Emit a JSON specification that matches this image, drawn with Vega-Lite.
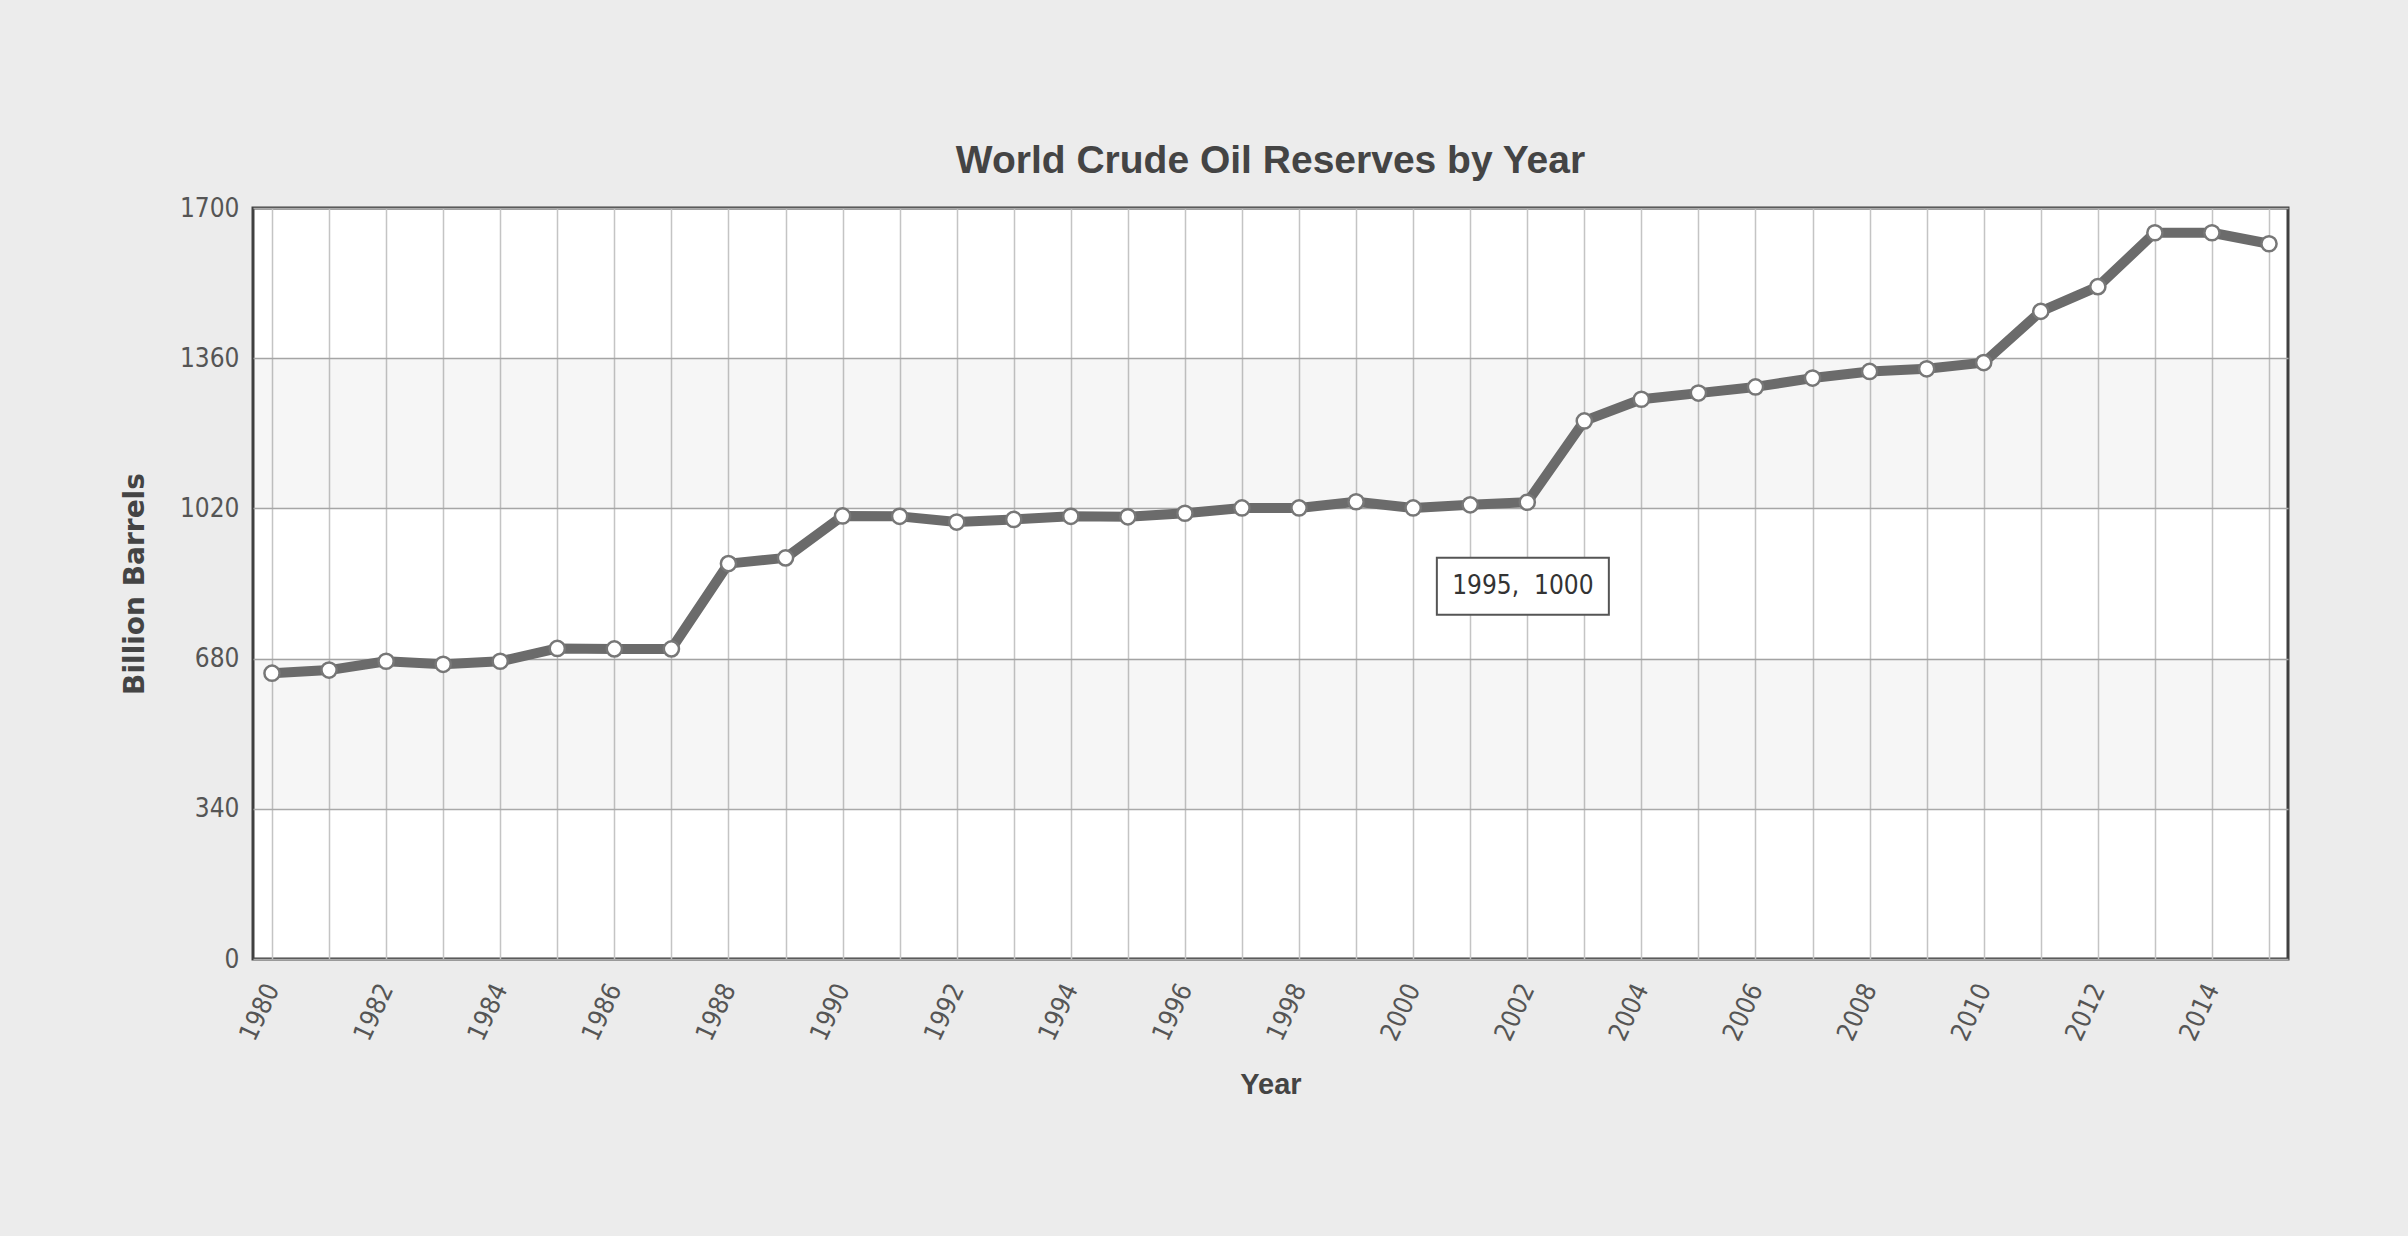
{
  "$schema": "https://vega.github.io/schema/vega-lite/v6.json",
  "width": 2035,
  "height": 751,
  "autosize": {"type": "none"},
  "padding": {"left": 253, "top": 208, "right": 120, "bottom": 277},
  "background": "#ececec",
  "title": {
    "text": "World Crude Oil Reserves by Year",
    "font": "Liberation Sans",
    "fontWeight": "bold",
    "fontSize": 39,
    "color": "#444444",
    "anchor": "middle",
    "offset": 14
  },
  "config": {
    "view": {"fill": "white", "stroke": "#404040", "strokeWidth": 3}
  },
  "datasets": {
    "reserves": [
      {"year": 1980, "value": 647},
      {"year": 1981, "value": 654},
      {"year": 1982, "value": 674},
      {"year": 1983, "value": 667},
      {"year": 1984, "value": 674},
      {"year": 1985, "value": 703},
      {"year": 1986, "value": 702},
      {"year": 1987, "value": 702},
      {"year": 1988, "value": 895},
      {"year": 1989, "value": 908},
      {"year": 1990, "value": 1003},
      {"year": 1991, "value": 1002},
      {"year": 1992, "value": 989},
      {"year": 1993, "value": 995},
      {"year": 1994, "value": 1002},
      {"year": 1995, "value": 1001},
      {"year": 1996, "value": 1009},
      {"year": 1997, "value": 1021},
      {"year": 1998, "value": 1021},
      {"year": 1999, "value": 1035},
      {"year": 2000, "value": 1021},
      {"year": 2001, "value": 1028},
      {"year": 2002, "value": 1034},
      {"year": 2003, "value": 1218},
      {"year": 2004, "value": 1267},
      {"year": 2005, "value": 1281},
      {"year": 2006, "value": 1295},
      {"year": 2007, "value": 1315},
      {"year": 2008, "value": 1330},
      {"year": 2009, "value": 1336},
      {"year": 2010, "value": 1350},
      {"year": 2011, "value": 1466},
      {"year": 2012, "value": 1522},
      {"year": 2013, "value": 1644},
      {"year": 2014, "value": 1644},
      {"year": 2015, "value": 1619}
    ],
    "bands": [
      {"lo": 340, "hi": 680},
      {"lo": 1020, "hi": 1360}
    ],
    "tip": [
      {"year": 1995, "value": 1000, "label": "1995,\u00a0 1000"}
    ]
  },
  "layer": [
    {
      "data": {"name": "bands"},
      "mark": {"type": "rect", "fill": "#000000", "fillOpacity": 0.035},
      "encoding": {
        "x": {"value": 0},
        "x2": {"value": "width"},
        "y": {
          "field": "lo",
          "type": "quantitative",
          "scale": {"domain": [0, 1700], "nice": false},
          "axis": {
            "values": [0, 340, 680, 1020, 1360, 1700],
            "format": "d",
            "labelFont": "DejaVu Sans Condensed, DejaVu Sans",
            "labelFontSize": 26,
            "labelColor": "#555555",
            "labelPadding": 14,
            "labelFlush": false,
            "ticks": false,
            "domain": false,
            "grid": true,
            "gridColor": "#a9a9a9",
            "gridWidth": 1.5,
            "title": "Billion Barrels",
            "titleFont": "DejaVu Sans",
            "titleFontSize": 28,
            "titleFontWeight": "bold",
            "titleColor": "#444444",
            "titlePadding": 30
          }
        },
        "y2": {"field": "hi"}
      }
    },
    {
      "data": {"name": "reserves"},
      "mark": {"type": "line", "color": "#6b6b6b", "strokeWidth": 10, "strokeJoin": "round"},
      "encoding": {
        "x": {
          "field": "year",
          "type": "quantitative",
          "scale": {"domain": [1979.667, 2015.333], "nice": false, "zero": false},
          "axis": {
            "values": [1980,1981,1982,1983,1984,1985,1986,1987,1988,1989,1990,1991,1992,1993,1994,1995,1996,1997,1998,1999,2000,2001,2002,2003,2004,2005,2006,2007,2008,2009,2010,2011,2012,2013,2014,2015],
            "labelExpr": "datum.value % 2 === 0 ? format(datum.value, 'd') : ''",
            "labelOverlap": false,
            "labelFlush": false,
            "labelAngle": -65,
            "labelFont": "DejaVu Sans Condensed, DejaVu Sans",
            "labelFontSize": 26,
            "labelColor": "#555555",
            "labelPadding": 26,
            "ticks": false,
            "domain": false,
            "grid": true,
            "gridColor": "#c4c4c4",
            "gridWidth": 1.5,
            "title": "Year",
            "titleFont": "Liberation Sans",
            "titleFontSize": 29,
            "titleFontWeight": "bold",
            "titleColor": "#444444",
            "titlePadding": 26
          }
        },
        "y": {
          "field": "value",
          "type": "quantitative",
          "axis": {
            "values": [0, 340, 680, 1020, 1360, 1700],
            "format": "d",
            "labelFont": "DejaVu Sans Condensed, DejaVu Sans",
            "labelFontSize": 26,
            "labelColor": "#555555",
            "labelPadding": 14,
            "labelFlush": false,
            "ticks": false,
            "domain": false,
            "grid": true,
            "gridColor": "#a9a9a9",
            "gridWidth": 1.5,
            "title": "Billion Barrels",
            "titleFont": "DejaVu Sans",
            "titleFontSize": 28,
            "titleFontWeight": "bold",
            "titleColor": "#444444",
            "titlePadding": 30
          }
        }
      }
    },
    {
      "data": {"name": "reserves"},
      "mark": {"type": "point", "shape": "circle", "filled": true, "fill": "white", "stroke": "#777777", "strokeWidth": 2.5, "size": 230, "opacity": 1},
      "encoding": {
        "x": {"field": "year", "type": "quantitative"},
        "y": {"field": "value", "type": "quantitative"}
      }
    },
    {
      "data": {"name": "tip"},
      "mark": {"type": "rect", "width": 172, "height": 57, "xOffset": 395, "yOffset": 69, "fill": "white", "stroke": "#555555", "strokeWidth": 2},
      "encoding": {
        "x": {"field": "year", "type": "quantitative"},
        "y": {"field": "value", "type": "quantitative"}
      }
    },
    {
      "data": {"name": "tip"},
      "mark": {"type": "text", "dx": 395, "dy": 69, "align": "center", "baseline": "middle", "font": "DejaVu Sans Condensed, DejaVu Sans", "fontSize": 26, "color": "#333333"},
      "encoding": {
        "x": {"field": "year", "type": "quantitative"},
        "y": {"field": "value", "type": "quantitative"},
        "text": {"field": "label"}
      }
    }
  ]
}
